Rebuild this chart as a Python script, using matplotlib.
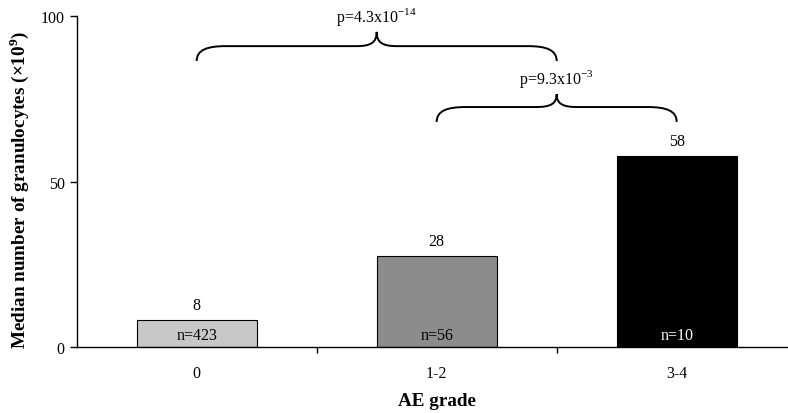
import matplotlib
matplotlib.use("Agg")
import matplotlib.pyplot as plt
from matplotlib.path import Path
from matplotlib.patches import PathPatch

plt.rcParams['font.family'] = ['Liberation Serif', 'DejaVu Serif']
plt.rcParams['mathtext.fontset'] = 'custom'
plt.rcParams['mathtext.rm'] = 'Liberation Serif'
plt.rcParams['mathtext.bf'] = 'Liberation Serif:bold'

# data
grades = ['0', '1-2', '3-4']
medians = [8.2, 27.5, 57.8]
median_labels = ['8', '28', '58']
n_labels = ['n=423', 'n=56', 'n=10']
bar_colors = ['#c8c8c8', '#8c8c8c', '#000000']
n_colors = ['black', 'black', 'white']

# comparisons: (from, to, p text)
comparisons = [(0, 1.5, r'p=4.3x10$^{-14}$'),
               (1, 2.0, r'p=9.3x10$^{-3}$')]
brace_levels = [(86.4, 90.9, 95.2), (68.0, 72.5, 76.4)]  # end, flat, apex


def brace(ax, x0, x1, y_end, y_flat, y_apex, curl=0.12, tip=0.085):
    xc = (x0 + x1) / 2
    verts = [(x0, y_end),
             (x0, y_flat - 1.2), (x0 + curl * 0.35, y_flat), (x0 + curl, y_flat),
             (xc - tip, y_flat),
             (xc - tip * 0.3, y_flat), (xc, y_flat + 1.0), (xc, y_apex),
             (xc, y_flat + 1.0), (xc + tip * 0.3, y_flat), (xc + tip, y_flat),
             (x1 - curl, y_flat),
             (x1 - curl * 0.35, y_flat), (x1, y_flat - 1.2), (x1, y_end)]
    codes = [Path.MOVETO,
             Path.CURVE4, Path.CURVE4, Path.CURVE4,
             Path.LINETO,
             Path.CURVE4, Path.CURVE4, Path.CURVE4,
             Path.CURVE4, Path.CURVE4, Path.CURVE4,
             Path.LINETO,
             Path.CURVE4, Path.CURVE4, Path.CURVE4]
    ax.add_patch(PathPatch(Path(verts, codes), fill=False, lw=1.4,
                           edgecolor='black', clip_on=False))
    return xc


fig = plt.figure(figsize=(7.88, 4.14), dpi=100)
ax = fig.add_axes([0.0973, 0.1594, 0.9137, 0.7995])

x = range(len(grades))
ax.bar(x, medians, width=0.5, color=bar_colors, edgecolor='black', linewidth=0.8)

for i, v in enumerate(medians):
    ax.annotate(median_labels[i], (i, v), xytext=(0, 5), textcoords='offset points',
                ha='center', va='bottom', fontsize=11.5)
    ax.annotate(n_labels[i], (i, 0), xytext=(0, 9), textcoords='offset points',
                ha='center', va='center', fontsize=11.5, color=n_colors[i])

for (a, b, txt), (ye, yf, ya) in zip(comparisons, brace_levels):
    xc = brace(ax, a, b, ye, yf, ya)
    ax.text(xc, ya + 1.4, txt, ha='center', va='bottom', fontsize=11.5)

ax.set_xlim(-0.5, 2.5)
ax.set_ylim(0, 100)
ax.set_yticks([0, 50, 100])
ax.set_xticks([0.5, 1.5])
ax.set_xticklabels([])
ax.set_xticks(list(x), minor=True)
ax.set_xticklabels(grades, minor=True)
ax.tick_params(axis='x', which='major', direction='out', length=4, width=1)
ax.tick_params(axis='x', which='minor', length=0, pad=13, labelsize=11.5)
ax.tick_params(axis='y', direction='out', length=5, width=1, labelsize=11.5)

for s in ['top', 'right']:
    ax.spines[s].set_visible(False)
for s in ['left', 'bottom']:
    ax.spines[s].set_linewidth(1)

ax.set_xlabel('AE grade', fontsize=13.8, fontweight='bold', labelpad=8)
ax.set_ylabel(r'Median number of granulocytes (×10$^{\mathbf{9}}$)',
              fontsize=13.8, fontweight='bold')
ax.yaxis.set_label_coords(-0.063, 0.477)

fig.savefig('out.png', dpi=100)
